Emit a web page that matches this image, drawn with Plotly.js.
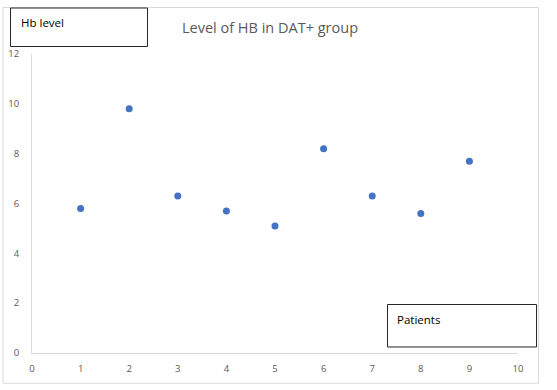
<!DOCTYPE html>
<html>
<head>
<meta charset="utf-8">
<script src="https://cdn.plot.ly/plotly-3.0.1.min.js"></script>
<style>html,body{margin:0;padding:0;background:#fff;}#chart{width:557px;height:390px;}</style>
</head>
<body>
<div id="chart"></div>
<script>
const patients = [1, 2, 3, 4, 5, 6, 7, 8, 9];
const hbLevels = [5.8, 9.8, 6.3, 5.7, 5.1, 8.2, 6.3, 5.6, 7.7];
const chartTitle = "Level of HB in DAT+ group";
const yLabel = "Hb level";
const xLabel = "Patients";

const font = "Open Sans, Liberation Sans, sans-serif";

const trace = {
  x: patients,
  y: hbLevels,
  type: "scatter",
  mode: "markers",
  marker: {color: "#4472C4", size: 7},
  hoverinfo: "x+y"
};

const layout = {
  width: 557,
  height: 390,
  margin: {l: 32, r: 39, t: 54, b: 37},
  paper_bgcolor: "#ffffff",
  plot_bgcolor: "#ffffff",
  showlegend: false,
  title: {
    text: chartTitle,
    font: {family: font, size: 14.5, color: "#595959"},
    xref: "paper", x: 0.4897, xanchor: "center",
    yref: "container", y: 0.928, yanchor: "middle"
  },
  xaxis: {
    range: [0, 10], dtick: 1, tick0: 0,
    showgrid: false, zeroline: false,
    showline: true, linecolor: "#d9d9d9", linewidth: 1,
    ticks: "", ticklabelstandoff: 7,
    tickfont: {family: font, size: 9.5, color: "#595959"},
    fixedrange: true
  },
  yaxis: {
    range: [0, 12], dtick: 2, tick0: 0,
    showgrid: false, zeroline: false,
    showline: true, linecolor: "#d9d9d9", linewidth: 1,
    ticks: "", ticklabelstandoff: 10,
    tickfont: {family: font, size: 9.5, color: "#595959"},
    fixedrange: true
  },
  shapes: [
    {type: "rect", xref: "paper", yref: "paper", x0: -0.0597, x1: 1.0422, y0: -0.1013, y1: 1.1555,
     line: {color: "#d9d9d9", width: 1}, fillcolor: "rgba(0,0,0,0)", layer: "below"},
    {type: "rect", xref: "paper", yref: "paper", x0: -0.0442, x1: 0.2377, y0: 1.0251, y1: 1.1538,
     line: {color: "#262626", width: 1}, fillcolor: "#ffffff"},
    {type: "rect", xref: "paper", yref: "paper", x0: 0.7315, x1: 1.0381, y0: 0.0201, y1: 0.1622,
     line: {color: "#262626", width: 1}, fillcolor: "#ffffff"}
  ],
  annotations: [
    {text: yLabel, xref: "paper", yref: "paper", x: -0.0267, y: 1.1037, xanchor: "left", yanchor: "middle",
     showarrow: false, font: {family: font, size: 11.5, color: "#000000"}},
    {text: xLabel, xref: "paper", yref: "paper", x: 0.747, y: 0.1137, xanchor: "left", yanchor: "middle",
     showarrow: false, font: {family: font, size: 11.5, color: "#000000"}}
  ]
};

Plotly.newPlot("chart", [trace], layout, {displayModeBar: false, staticPlot: false});
</script>
</body>
</html>
